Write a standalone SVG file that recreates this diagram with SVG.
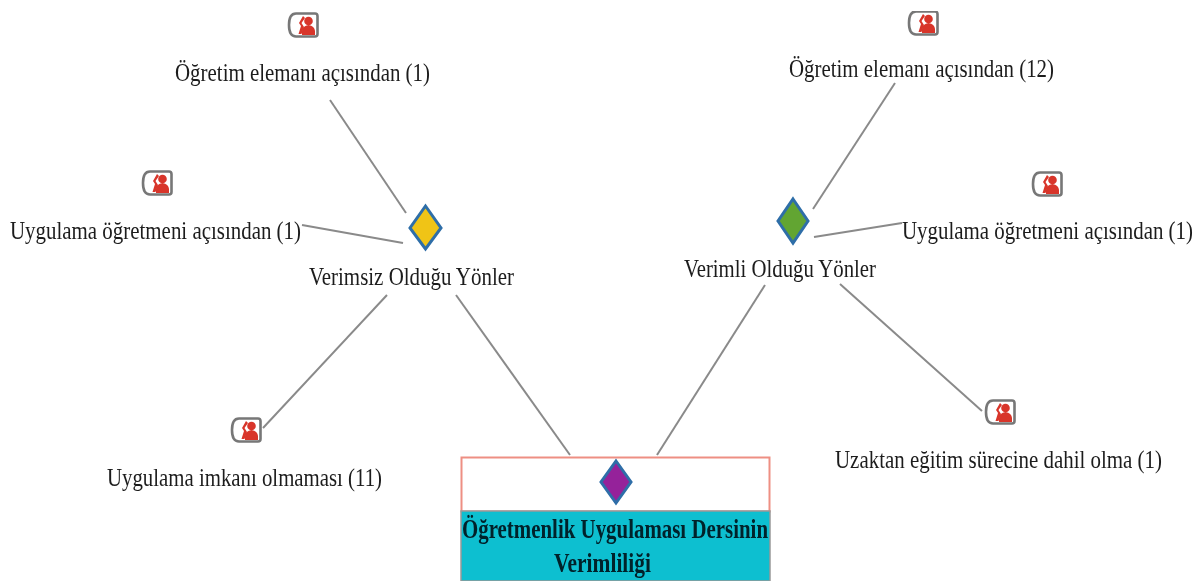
<svg xmlns="http://www.w3.org/2000/svg" width="1201" height="582" viewBox="0 0 1201 582">
<style>
text{font-family:"Liberation Serif","Times New Roman",serif;font-size:22px;fill:#1c1c1c}
.b{font-weight:bold;fill:#06202a;font-size:23px}
.s{font-size:21px}
.c line{stroke:#8a8a8a;stroke-width:2}
.d{stroke:#2f6ea8;stroke-width:3}
</style>
<defs>
<filter id="soft" x="0" y="0" width="100%" height="100%"><feGaussianBlur stdDeviation="0.55"/></filter>
<g id="doc">
<path d="M8 1.500H27Q29.500 1.500 29.500 4V22Q29.500 24.500 27 24.500H8Q1 24.500 1 13Q1 1.500 8 1.500Z" fill="#fff" stroke="#777" stroke-width="2.600"/>
<path d="M15 4L11 11L13 14L10.500 22H13.500L16 15L13.500 11L17 6Z" fill="#d8352a"/>
<circle cx="20.500" cy="9" r="4.300" fill="#d8352a"/>
<path d="M14 23V19Q14.500 14 20.500 13Q26.500 14 27 19V23Z" fill="#d8352a"/>
</g>
</defs>
<g filter="url(#soft)">
<g id="connectors" class="c">
<line x1="330" y1="100" x2="406" y2="213"/>
<line x1="302" y1="225" x2="403" y2="243"/>
<line x1="387" y1="295" x2="263" y2="428"/>
<line x1="456" y1="295" x2="570" y2="455"/>
<line x1="765" y1="285" x2="657" y2="455"/>
<line x1="895" y1="83" x2="813" y2="209"/>
<line x1="902" y1="223" x2="814" y2="237"/>
<line x1="840" y1="284" x2="982" y2="411"/>
</g>
<g id="root">
<rect x="461.500" y="457.500" width="308" height="54" fill="#fff" stroke="#ee8f83" stroke-width="2"/>
<rect x="461" y="511" width="309" height="70" fill="#0abfd0" stroke="#999" stroke-width="1.500"/>
<polygon class="d" points="616,461 631,482 616,503 601,482" fill="#95209a"/>
<text class="b" transform="translate(462 538) scale(1 1.2)" textLength="306" lengthAdjust="spacingAndGlyphs">Öğretmenlik Uygulaması Dersinin</text>
<text class="b" transform="translate(554 572) scale(1 1.2)" textLength="97" lengthAdjust="spacingAndGlyphs">Verimliliği</text>
</g>
<g id="n-verimsiz">
<polygon class="d" points="425.500,206 441,228 425.500,249 410,228" fill="#f0c414"/>
<text transform="translate(309 285) scale(1 1.15)" textLength="205" lengthAdjust="spacingAndGlyphs">Verimsiz Olduğu Yönler</text>
</g>
<g id="n-verimli">
<polygon class="d" points="793,199 808,221 793,243 778,221" fill="#62a532"/>
<text transform="translate(684 277) scale(1 1.15)" textLength="192" lengthAdjust="spacingAndGlyphs">Verimli Olduğu Yönler</text>
</g>
<g id="n-ogretim-1">
<use href="#doc" x="288" y="12"/>
<text transform="translate(175 81) scale(1 1.15)" textLength="255" lengthAdjust="spacingAndGlyphs">Öğretim elemanı açısından (1)</text>
</g>
<g id="n-uygulama-1">
<use href="#doc" x="142" y="170"/>
<text transform="translate(10 239) scale(1 1.15)" textLength="291" lengthAdjust="spacingAndGlyphs">Uygulama öğretmeni açısından (1)</text>
</g>
<g id="n-imkan">
<use href="#doc" x="231" y="417"/>
<text transform="translate(107 486) scale(1 1.15)" textLength="275" lengthAdjust="spacingAndGlyphs">Uygulama imkanı olmaması (11)</text>
</g>
<g id="n-ogretim-12">
<use href="#doc" x="908" y="10"/>
<text transform="translate(789 77) scale(1 1.15)" textLength="265" lengthAdjust="spacingAndGlyphs">Öğretim elemanı açısından (12)</text>
</g>
<g id="n-uygulama-2">
<use href="#doc" x="1032" y="171"/>
<text class="s" transform="translate(902 239) scale(1 1.2)" textLength="291" lengthAdjust="spacingAndGlyphs">Uygulama öğretmeni açısından (1)</text>
</g>
<g id="n-uzaktan">
<use href="#doc" x="985" y="399"/>
<text transform="translate(835 468) scale(1 1.15)" textLength="327" lengthAdjust="spacingAndGlyphs">Uzaktan eğitim sürecine dahil olma (1)</text>
</g>
</g>
</svg>
